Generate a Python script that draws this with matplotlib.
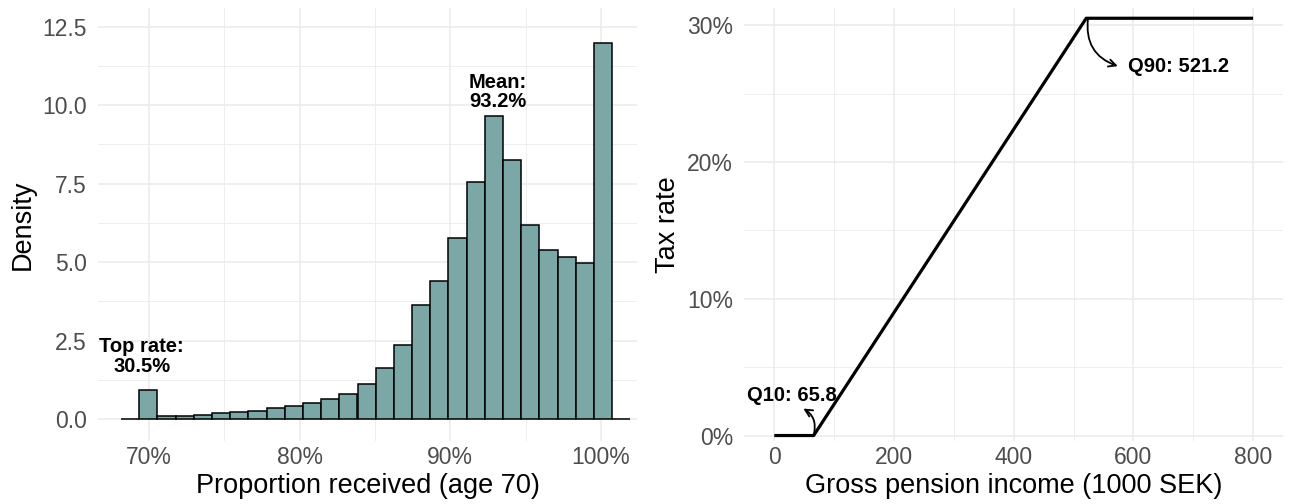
import matplotlib
matplotlib.use("Agg")
import matplotlib.pyplot as plt
from matplotlib.ticker import FuncFormatter, MultipleLocator

plt.rcParams['font.family'] = ['Liberation Sans', 'DejaVu Sans']

# ---------------- data ----------------
# Left panel: histogram of proportion received at age 70 (percent), density
bin_centers = [68.74, 69.94, 71.15, 72.36, 73.57, 74.78, 75.98, 77.19, 78.40,
               79.61, 80.82, 82.02, 83.23, 84.44, 85.65, 86.86, 88.06, 89.27,
               90.48, 91.69, 92.90, 94.10, 95.31, 96.52, 97.73, 98.94, 100.14,
               101.35]
bin_width = 1.208
density = [0.0, 0.91, 0.11, 0.11, 0.12, 0.18, 0.23, 0.27, 0.34, 0.40, 0.52,
           0.65, 0.80, 1.13, 1.62, 2.35, 3.63, 4.40, 5.77, 7.55, 9.65, 8.26,
           6.20, 5.40, 5.15, 4.98, 11.99, 0.0]
left_xticks = [70, 80, 90, 100]
left_yticks = [0.0, 2.5, 5.0, 7.5, 10.0, 12.5]
top_rate = 30.5
mean_received = 93.2

# Right panel: tax rate schedule
income = [0, 65.8, 521.2, 800]
tax_rate = [0, 0, 30.5, 30.5]
q10 = 65.8
q90 = 521.2
right_xticks = [0, 200, 400, 600, 800]
right_yticks = [0, 10, 20, 30]

# ---------------- style ----------------
W, H = 1291, 504
fig = plt.figure(figsize=(W / 100, H / 100), dpi=100)

bar_color = '#7BA8A6'
grid_color = '#EBEBEB'
tick_color = '#4D4D4D'
tick_size = 16.5
title_size = 19.5
ann_size = 14.5

panel_bottom = (H - 441) / H
panel_height = (441 - 8) / H
ax1 = fig.add_axes([98 / W, panel_bottom, 539 / W, panel_height])
ax2 = fig.add_axes([744 / W, panel_bottom, 539 / W, panel_height])


def style(ax):
    for s in ax.spines.values():
        s.set_visible(False)
    ax.set_axisbelow(True)
    ax.grid(which='major', color=grid_color, linewidth=1.1)
    ax.grid(which='minor', color=grid_color, linewidth=0.6)
    ax.tick_params(which='both', length=0, colors=tick_color,
                   labelsize=tick_size)
    ax.tick_params(axis='y', pad=8)
    ax.tick_params(axis='x', pad=3.5)


# ---- left panel ----
style(ax1)
ax1.bar(bin_centers, density, width=bin_width, color=bar_color,
        edgecolor='black', linewidth=1.1, zorder=2)
ax1.set_xlim(66.6, 102.4)
ax1.set_ylim(-0.70, 13.1)
ax1.set_xticks(left_xticks)
ax1.xaxis.set_minor_locator(MultipleLocator(5))
ax1.set_yticks(left_yticks)
ax1.yaxis.set_minor_locator(MultipleLocator(1.25))
ax1.xaxis.set_major_formatter(FuncFormatter(lambda v, p: f"{v:.0f}%"))
ax1.yaxis.set_major_formatter(FuncFormatter(lambda v, p: f"{v:.1f}"))
ax1.set_xlabel('Proportion received (age 70)', fontsize=title_size,
               color='black', labelpad=3)
ax1.set_ylabel('Density', fontsize=title_size, color='black', labelpad=4.5)

ax1.text(100 - top_rate, 2.0, f"Top rate:\n{top_rate}%", ha='center',
         va='center', ma='center', fontsize=ann_size, fontweight='bold',
         linespacing=1.05, zorder=3)
ax1.text(93.15, 10.42, f"Mean:\n{mean_received}%", ha='center', va='center',
         ma='center', fontsize=ann_size, fontweight='bold', linespacing=1.05,
         zorder=3)

# ---- right panel ----
style(ax2)
ax2.plot(income, tax_rate, color='black', linewidth=2.3, solid_capstyle='butt',
         zorder=3)
ax2.set_xlim(-50.6, 850)
ax2.set_ylim(-0.40, 31.25)
ax2.set_xticks(right_xticks)
ax2.xaxis.set_minor_locator(MultipleLocator(100))
ax2.set_yticks(right_yticks)
ax2.yaxis.set_minor_locator(MultipleLocator(5))
ax2.xaxis.set_major_formatter(FuncFormatter(lambda v, p: f"{v:.0f}"))
ax2.yaxis.set_major_formatter(FuncFormatter(lambda v, p: f"{v:.0f}%"))
ax2.set_xlabel('Gross pension income (1000 SEK)', fontsize=title_size,
               color='black', labelpad=3)
ax2.set_ylabel('Tax rate', fontsize=title_size, color='black', labelpad=4)

arrow_kw = dict(arrowstyle='->', color='black', lw=1.3, mutation_scale=13,
                shrinkA=0, shrinkB=0)
ax2.annotate('', xy=(48.6, 1.97), xytext=(q10 + 0.7, 0.16),
             arrowprops=dict(connectionstyle='arc3,rad=0.35', **arrow_kw),
             zorder=4)
ax2.text(29, 2.96, f"Q10: {q10}", ha='center', va='center',
         fontsize=ann_size, fontweight='bold', zorder=4)
ax2.annotate('', xy=(574, 27.0), xytext=(q90 + 3, 30.5),
             arrowprops=dict(connectionstyle='arc3,rad=0.4', **arrow_kw),
             zorder=4)
ax2.text(675, 26.96, f"Q90: {q90}", ha='center', va='center',
         fontsize=ann_size, fontweight='bold', zorder=4)

fig.savefig('out.png', dpi=100)
